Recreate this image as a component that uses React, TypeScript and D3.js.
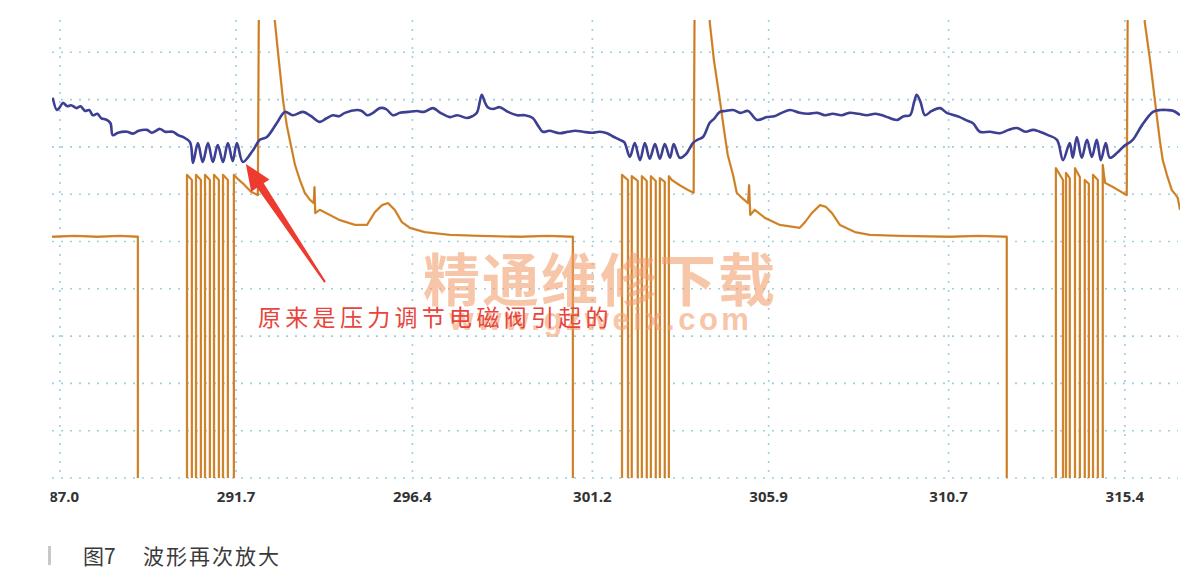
import React from "react";
import * as d3 from "d3";

// ---- data (time in ms, amplitude in grid divisions) ----
const tickValues = [287.0, 291.7, 296.4, 301.2, 305.9, 310.7, 315.4];
const tickLabels = ["287.0", "291.7", "296.4", "301.2", "305.9", "310.7", "315.4"];
const gridDivs = [0, 1, 2, 3, 4, 5, 6, 7, 8, 9];

// blue channel (pressure signal)
const blueT = [
  286.81, 286.92, 287.0, 287.08, 287.2, 287.3, 287.45, 287.55, 287.67, 287.78, 287.88, 288.0, 288.1, 288.25, 288.35,
  288.41, 288.55, 288.79, 288.95, 289.1, 289.32, 289.45, 289.67, 289.8, 290.01, 290.15, 290.28, 290.47, 290.55,
  290.68, 290.81, 290.95, 291.08, 291.21, 291.35, 291.48, 291.61, 291.72, 291.88, 292.15, 292.33, 292.52, 292.79,
  293.0, 293.21, 293.48, 293.7, 293.93, 294.1, 294.28, 294.45, 294.6, 294.92, 295.05, 295.19, 295.35, 295.53, 295.7,
  295.88, 296.07, 296.3, 296.52, 296.7, 296.95, 297.15, 297.4, 297.6, 297.85, 298.0, 298.12, 298.25, 298.33, 298.41,
  298.55, 298.73, 298.95, 299.19, 299.4, 299.61, 299.75, 299.88, 300.05, 300.33, 300.55, 300.75, 300.95, 301.2,
  301.4, 301.59, 301.75, 301.93, 302.05, 302.2, 302.33, 302.47, 302.6, 302.73, 302.87, 303.0, 303.13, 303.27, 303.37,
  303.53, 303.7, 303.88, 304.0, 304.15, 304.33, 304.45, 304.6, 304.75, 304.95, 305.15, 305.35, 305.59, 305.85, 306.05,
  306.25, 306.47, 306.73, 306.95, 307.2, 307.4, 307.61, 307.85, 308.05, 308.3, 308.52, 308.75, 309.0, 309.32, 309.5,
  309.67, 309.78, 309.85, 309.95, 310.07, 310.25, 310.47, 310.65, 310.85, 311.0, 311.15, 311.35, 311.53, 311.8, 312.07,
  312.3, 312.52, 312.75, 312.95, 313.13, 313.35, 313.59, 313.75, 313.93, 314.01, 314.12, 314.25, 314.39, 314.52,
  314.65, 314.76, 314.89, 315.0, 315.2, 315.35, 315.61, 315.85, 316.15, 316.35, 316.52, 316.7, 316.87,
];
const blueV = [
  8.04, 7.78, 7.84, 7.93, 7.86, 7.88, 7.82, 7.86, 7.76, 7.78, 7.67, 7.7, 7.61, 7.57, 7.5,
  7.25, 7.3, 7.32, 7.28, 7.34, 7.36, 7.3, 7.38, 7.32, 7.32, 7.25, 7.21, 7.1, 6.66,
  7.08, 6.68, 7.08, 6.68, 7.04, 6.68, 7.08, 6.7, 7.08, 6.68, 6.93, 7.15, 7.21, 7.51,
  7.74, 7.67, 7.74, 7.65, 7.53, 7.6, 7.67, 7.65, 7.72, 7.78, 7.76, 7.67, 7.72, 7.82, 7.8,
  7.67, 7.72, 7.74, 7.76, 7.74, 7.82, 7.72, 7.63, 7.67, 7.61, 7.65, 7.72, 8.1, 7.95, 7.84,
  7.8, 7.84, 7.74, 7.67, 7.67, 7.61, 7.45, 7.32, 7.34, 7.29, 7.32, 7.34, 7.32, 7.3,
  7.32, 7.29, 7.22, 7.15, 7.1, 6.79, 7.08, 6.72, 7.08, 6.75, 7.06, 6.75, 7.06, 6.77, 7.06,
  6.77, 6.85, 7.08, 7.15, 7.21, 7.51, 7.6, 7.74, 7.76, 7.78, 7.72, 7.76, 7.57, 7.63, 7.65,
  7.72, 7.78, 7.72, 7.7, 7.72, 7.67, 7.7, 7.67, 7.72, 7.7, 7.67, 7.7, 7.65, 7.57, 7.65,
  7.67, 7.95, 8.1, 7.95, 7.67, 7.76, 7.82, 7.72, 7.67, 7.63, 7.57, 7.5, 7.32, 7.32, 7.29,
  7.36, 7.4, 7.32, 7.36, 7.32, 7.25, 7.15, 6.72, 7.08, 6.77, 7.21, 6.77, 7.15, 6.79,
  7.15, 6.72, 7.08, 6.77, 6.88, 7.0, 7.15, 7.45, 7.74, 7.78, 7.78, 7.76, 7.67,
];

// orange channel (solenoid drive)
const orangeT = [
  286.79, 287.4, 288.0, 288.6, 289.08, 289.08,
  290.39, 290.39, 290.52, 290.52,
  290.63, 290.63, 290.76, 290.76,
  290.87, 290.87, 291.0, 291.0,
  291.11, 291.11, 291.24, 291.24,
  291.35, 291.35, 291.48, 291.48,
  291.64, 291.64, 291.72, 291.93, 292.1, 292.28, 292.31, 292.73,
  292.73, 292.81, 292.95, 293.05, 293.13, 293.27, 293.4, 293.53, 293.67, 293.77, 293.79, 293.81, 293.93, 294.2,
  294.47, 294.87, 295.19, 295.4, 295.59, 295.75, 295.93, 296.12, 296.33, 296.73, 297.4, 298.2, 299.27, 300.0,
  300.68, 300.68,
  301.99, 301.99, 302.15, 302.15,
  302.25, 302.25, 302.41, 302.41,
  302.52, 302.52, 302.65, 302.65,
  302.76, 302.76, 302.89, 302.89,
  303.0, 303.0, 303.13, 303.13,
  303.24, 303.24, 303.32, 303.53, 303.75, 303.9, 303.93, 304.33,
  304.33, 304.44, 304.52, 304.6, 304.71, 304.81, 304.95, 305.05, 305.19, 305.35, 305.38, 305.41, 305.53, 305.8,
  306.2, 306.73, 306.87, 307.05, 307.27, 307.43, 307.59, 307.8, 308.2, 308.6, 309.4, 310.73, 311.5, 312.25, 312.25,
  313.56, 313.56, 313.75, 313.75,
  313.83, 313.83, 313.93, 313.93,
  314.07, 314.07, 314.2, 314.2,
  314.33, 314.33, 314.44, 314.44,
  314.55, 314.55, 314.68, 314.68,
  314.81, 314.81, 314.87, 315.13, 315.45, 315.48, 315.93,
  315.93, 316.07, 316.2, 316.33, 316.41, 316.52, 316.65, 316.76, 316.81, 316.87,
];
const orangeV = [
  5.1, 5.12, 5.1, 5.12, 5.1, -0.5,
  -0.5, 6.41, 6.3, -0.5,
  -0.5, 6.41, 6.3, -0.5,
  -0.5, 6.41, 6.3, -0.5,
  -0.5, 6.41, 6.3, -0.5,
  -0.5, 6.41, 6.3, -0.5,
  -0.5, 6.41, 6.34, 6.19, 6.05, 5.98, 10.6, 10.6,
  9.68, 9.05, 7.99, 7.46, 7.15, 6.62, 6.3, 6.03, 5.88, 5.81, 6.15, 5.6, 5.67, 5.56,
  5.45, 5.35, 5.35, 5.62, 5.77, 5.81, 5.67, 5.41, 5.29, 5.2, 5.14, 5.12, 5.1, 5.12,
  5.1, -0.5,
  -0.5, 6.41, 6.3, -0.5,
  -0.5, 6.38, 6.28, -0.5,
  -0.5, 6.38, 6.28, -0.5,
  -0.5, 6.38, 6.28, -0.5,
  -0.5, 6.34, 6.26, -0.5,
  -0.5, 6.38, 6.3, 6.19, 6.09, 6.03, 10.6, 10.6,
  9.64, 8.84, 8.41, 7.99, 7.36, 6.83, 6.41, 6.03, 5.92, 5.81, 6.19, 5.56, 5.67, 5.5,
  5.35, 5.29, 5.41, 5.6, 5.77, 5.73, 5.6, 5.35, 5.2, 5.14, 5.12, 5.1, 5.12, 5.1, -0.5,
  -0.5, 6.55, 6.3, -0.5,
  -0.5, 6.45, 6.34, -0.5,
  -0.5, 6.55, 6.36, -0.5,
  -0.5, 6.3, 6.22, -0.5,
  -0.5, 6.41, 6.3, -0.5,
  -0.5, 6.62, 6.24, 6.13, 5.98, 10.6, 10.6,
  9.64, 8.84, 7.99, 7.15, 6.72, 6.41, 6.09, 5.98, 5.92, 5.67,
];

// annotation anchor (arrow tip and tail, in data units)
const arrowTip = [291.96, 6.64];
const arrowTail = [294.07, 4.14];

const W = 1201;
const H = 585;
const plot = { left: 52, right: 1180, top: 20, bottom: 478 };

export default function App() {
  const x = d3.scaleLinear().domain([286.79, 316.87]).range([plot.left, plot.right]);
  const y = d3.scaleLinear().domain([0, 10]).range([plot.bottom, plot.bottom - 473]);

  const line = d3
    .line<[number, number]>()
    .x((d) => x(d[0]))
    .y((d) => y(d[1]));
  const smooth = d3
    .line<[number, number]>()
    .x((d) => x(d[0]))
    .y((d) => y(d[1]))
    .curve(d3.curveCatmullRom.alpha(0.5));

  const blue = blueT.map((t, i) => [t, blueV[i]] as [number, number]);
  const orange = orangeT.map((t, i) => [t, orangeV[i]] as [number, number]);

  // arrow geometry
  const tx = x(arrowTip[0]);
  const ty = y(arrowTip[1]);
  const ex = x(arrowTail[0]);
  const ey = y(arrowTail[1]);
  const len = Math.hypot(ex - tx, ey - ty);
  const ux = (ex - tx) / len;
  const uy = (ey - ty) / len;
  const px = -uy;
  const py = ux;
  const headL = 26;
  const bx = tx + ux * headL;
  const by = ty + uy * headL;
  const pts = [
    [tx, ty],
    [bx + px * 11, by + py * 11],
    [bx + px * 4, by + py * 4],
    [ex + px * 1, ey + py * 1],
    [ex - px * 1, ey - py * 1],
    [bx - px * 4, by - py * 4],
    [bx - px * 11, by - py * 11],
  ];

  const gridColor = "#9ccfe0";

  return (
    <svg
      width={W}
      height={H}
      style={{ position: "absolute", left: 0, top: 0, background: "#fff" }}
      xmlns="http://www.w3.org/2000/svg"
    >
      <defs>
        <clipPath id="plotClip">
          <rect x={plot.left} y={plot.top} width={plot.right - plot.left} height={plot.bottom - plot.top} />
        </clipPath>
        <clipPath id="labelClip">
          <rect x={50.5} y={480} width={1150} height={40} />
        </clipPath>
      </defs>
      <rect x={0} y={0} width={W} height={H} fill="#ffffff" />

      {/* grid */}
      <g>
        {gridDivs.map((g) => (
          <line
            key={"h" + g}
            x1={plot.left}
            x2={plot.right - 2}
            y1={y(g)}
            y2={y(g)}
            stroke={gridColor}
            strokeWidth={1.6}
            strokeDasharray="2,7"
          />
        ))}
        {tickValues.map((t) => (
          <line
            key={"v" + t}
            x1={x(t)}
            x2={x(t)}
            y1={plot.top}
            y2={plot.bottom}
            stroke={gridColor}
            strokeWidth={1.6}
            strokeDasharray="2,7"
          />
        ))}
      </g>

      {/* traces */}
      <g clipPath="url(#plotClip)">
        <path d={line(orange) || ""} fill="none" stroke="#d98f30" strokeWidth={2.3} strokeLinejoin="round" />
        <path d={line(orange) || ""} fill="none" stroke="#b8682a" strokeWidth={0.8} strokeLinejoin="round" opacity={0.7} />
        <path d={smooth(blue) || ""} fill="none" stroke="#3d3f92" strokeWidth={2.6} strokeLinejoin="round" />
      </g>

      {/* axis labels */}
      <g clipPath="url(#labelClip)">
        {tickValues.map((t, i) => (
          <text
            key={"t" + t}
            x={x(t)}
            y={502}
            textAnchor="middle"
            fontFamily="'Open Sans', 'Noto Sans', sans-serif"
            fontWeight={700}
            fontSize={15}
            fill="#333"
          >
            {tickLabels[i]}
          </text>
        ))}
      </g>

      {/* watermark */}
      <g opacity={0.6}>
        <text
          x={600}
          y={301}
          textAnchor="middle"
          fontFamily="'Noto Sans CJK SC', sans-serif"
          fontWeight={700}
          fontSize={57}
          fill="#f2a070"
          letterSpacing={2}
        >
          精通维修下载
        </text>
        <text
          x={601}
          y={330}
          textAnchor="middle"
          fontFamily="'Liberation Sans', Arial, sans-serif"
          fontWeight={700}
          fontSize={31}
          fill="#f2a070"
          letterSpacing={3.5}
        >
          www.gzweix.com
        </text>
      </g>

      {/* annotation */}
      <polygon points={pts.map((p) => p.join(",")).join(" ")} fill="#ee3b30" />
      <text
        x={258}
        y={326}
        fontFamily="'Noto Sans CJK SC', sans-serif"
        fontSize={23}
        fill="#e8453c"
        letterSpacing={4.3}
      >
        原来是压力调节电磁阀引起的
      </text>

      {/* caption */}
      <rect x={48} y={546} width={3} height={19} fill="#c8c8c8" />
      <text x={83} y={564} fontFamily="'Noto Sans CJK SC', sans-serif" fontSize={21} fill="#3a3a3a">
        图7
      </text>
      <text x={143} y={564} fontFamily="'Noto Sans CJK SC', sans-serif" fontSize={21} fill="#3a3a3a" letterSpacing={2}>
        波形再次放大
      </text>
    </svg>
  );
}
